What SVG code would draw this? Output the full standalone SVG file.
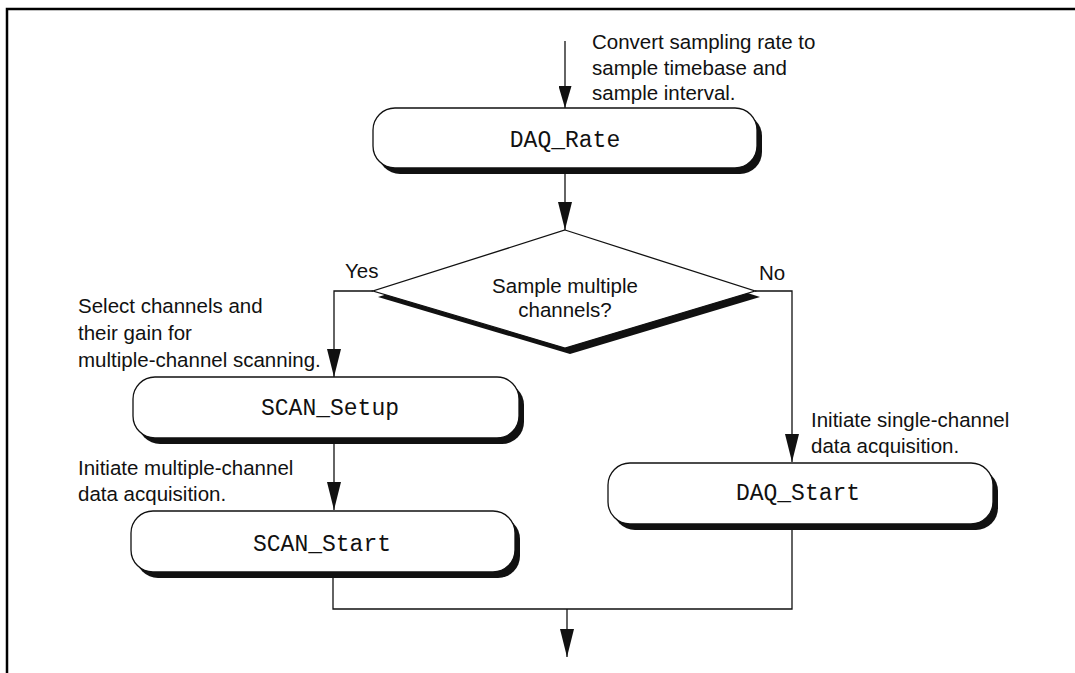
<svg xmlns="http://www.w3.org/2000/svg" width="1075" height="673" viewBox="0 0 1075 673">
<defs>
<style>
.lbl{font-family:"Liberation Sans",Arial,sans-serif;font-size:20.5px;fill:#111}
.code{font-family:"Liberation Mono","Courier New",monospace;font-size:23px;fill:#111;text-anchor:middle}
.box{fill:#fff;stroke:#111;stroke-width:1.3}
.shadow{fill:#111}
.conn{fill:none;stroke:#111;stroke-width:1.3}
</style>
<marker id="arr" markerUnits="userSpaceOnUse" markerWidth="14" markerHeight="28" refX="7" refY="27" orient="auto" viewBox="0 0 14 28">
<path d="M0,0 L14,0 L7,28 Z" fill="#111" transform="rotate(-90 7 14) translate(0 0)"/>
</marker>
<marker id="ah" markerUnits="userSpaceOnUse" markerWidth="28" markerHeight="14" refX="28" refY="7" orient="auto" viewBox="0 0 28 14">
<path d="M0,0 L28,7 L0,14 Z" fill="#111"/>
</marker>
<marker id="ahs" markerUnits="userSpaceOnUse" markerWidth="22" markerHeight="13" refX="22" refY="6.5" orient="auto" viewBox="0 0 22 13">
<path d="M0,0 L22,6.5 L0,13 Z" fill="#111"/>
</marker>
</defs>
<rect width="1075" height="673" fill="#fff"/>
<path d="M7,673 V9 H1075" fill="none" stroke="#000" stroke-width="2.5"/>

<g id="connectors">
<path class="conn" d="M565,41 V108" marker-end="url(#ahs)"/>
<path class="conn" d="M565,174 V230" marker-end="url(#ah)"/>
<path class="conn" d="M373,291 H334 V377" marker-end="url(#ah)"/>
<path class="conn" d="M755,291 H792 V462" marker-end="url(#ah)"/>
<path class="conn" d="M334,444 V510" marker-end="url(#ah)"/>
<path class="conn" d="M333,578 V609 H792 V530"/>
<path class="conn" d="M567,609 V657" marker-end="url(#ah)"/>
</g>

<g id="note-rate">
<text class="lbl" x="592" y="49">Convert sampling rate to</text>
<text class="lbl" x="592" y="75">sample timebase and</text>
<text class="lbl" x="592" y="100">sample interval.</text>
</g>

<g id="daq-rate">
<rect class="shadow" x="378" y="114" width="384" height="60" rx="22"/>
<rect class="box" x="373" y="108" width="384" height="60" rx="22"/>
<text class="code" x="565" y="147">DAQ_Rate</text>
</g>

<g id="decision">
<polygon class="shadow" points="570,236 760,297 570,354 378,297"/>
<polygon class="box" points="565,230 755,291 565,348 373,291"/>
<text class="lbl" x="565" y="293" text-anchor="middle">Sample multiple</text>
<text class="lbl" x="565" y="317" text-anchor="middle">channels?</text>
</g>

<g id="label-yes"><text class="lbl" x="345" y="278">Yes</text></g>
<g id="label-no"><text class="lbl" x="759" y="280">No</text></g>

<g id="note-setup">
<text class="lbl" x="78" y="313">Select channels and</text>
<text class="lbl" x="78" y="340">their gain for</text>
<text class="lbl" x="78" y="367">multiple-channel scanning.</text>
</g>

<g id="scan-setup">
<rect class="shadow" x="138" y="383" width="386" height="61" rx="22"/>
<rect class="box" x="133" y="377" width="386" height="61" rx="22"/>
<text class="code" x="330" y="415">SCAN_Setup</text>
</g>

<g id="note-scan-start">
<text class="lbl" x="78" y="475">Initiate multiple-channel</text>
<text class="lbl" x="78" y="501">data acquisition.</text>
</g>

<g id="scan-start">
<rect class="shadow" x="136" y="517" width="384" height="61" rx="22"/>
<rect class="box" x="131" y="511" width="384" height="61" rx="22"/>
<text class="code" x="322" y="551">SCAN_Start</text>
</g>

<g id="note-daq-start">
<text class="lbl" x="811" y="427">Initiate single-channel</text>
<text class="lbl" x="811" y="453">data acquisition.</text>
</g>

<g id="daq-start">
<rect class="shadow" x="613" y="469" width="385" height="61" rx="22"/>
<rect class="box" x="608" y="463" width="385" height="61" rx="22"/>
<text class="code" x="798" y="500">DAQ_Start</text>
</g>
</svg>
